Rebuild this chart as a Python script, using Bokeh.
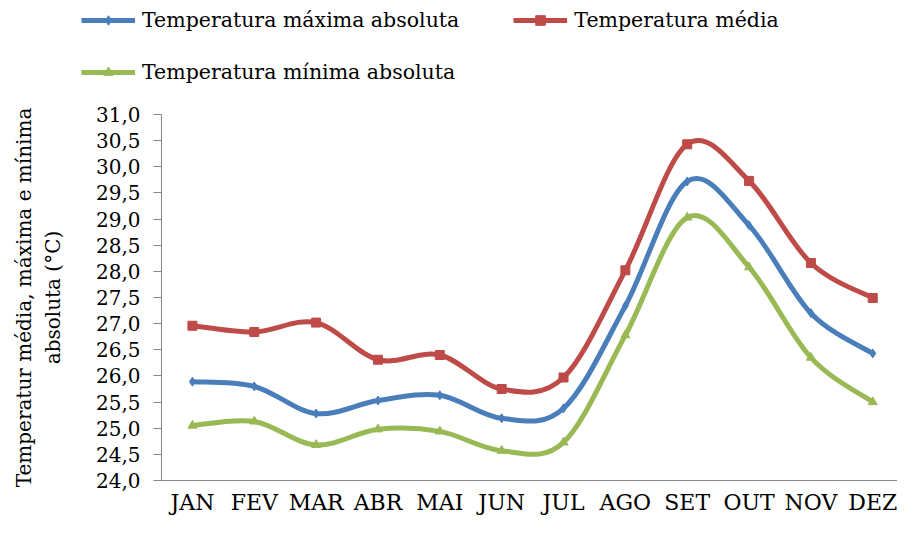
import numpy as np
from bokeh.plotting import figure
from bokeh.layouts import column
from bokeh.models import Legend, LegendItem, FixedTicker
from bokeh.embed import file_html
from bokeh.resources import INLINE

months = ["JAN", "FEV", "MAR", "ABR", "MAI", "JUN", "JUL", "AGO", "SET", "OUT", "NOV", "DEZ"]
t_max = [25.89, 25.80, 25.28, 25.53, 25.63, 25.19, 25.38, 27.34, 29.72, 28.88, 27.20, 26.43]
t_med = [26.96, 26.84, 27.02, 26.31, 26.40, 25.75, 25.97, 28.02, 30.43, 29.73, 28.16, 27.49]
t_min = [25.05, 25.13, 24.68, 24.98, 24.94, 24.57, 24.73, 26.78, 29.03, 28.08, 26.35, 25.50]
series_names = ["Temperatura máxima absoluta", "Temperatura média", "Temperatura mínima absoluta"]
y_ticks = [24.0, 24.5, 25.0, 25.5, 26.0, 26.5, 27.0, 27.5, 28.0, 28.5, 29.0, 29.5, 30.0, 30.5, 31.0]
y_tick_labels = ["24,0", "24,5", "25,0", "25,5", "26,0", "26,5", "27,0", "27,5",
                 "28,0", "28,5", "29,0", "29,5", "30,0", "30,5", "31,0"]

FONT = "DejaVu Serif"
W = 897
H_LEG = 92
H_MAIN = 517 - H_LEG
x = list(range(len(months)))


def bezier_segments(xs, ys):
    xs = np.asarray(xs, dtype=float)
    ys = np.asarray(ys, dtype=float)
    n = len(xs)
    seg = dict(x0=[], y0=[], x1=[], y1=[], cx0=[], cy0=[], cx1=[], cy1=[])
    for i in range(n - 1):
        a = max(i - 1, 0)
        d = min(i + 2, n - 1)
        seg["x0"].append(xs[i]); seg["y0"].append(ys[i])
        seg["x1"].append(xs[i + 1]); seg["y1"].append(ys[i + 1])
        seg["cx0"].append(xs[i] + (xs[i + 1] - xs[a]) / 6.0)
        seg["cy0"].append(ys[i] + (ys[i + 1] - ys[a]) / 6.0)
        seg["cx1"].append(xs[i + 1] - (xs[d] - xs[i]) / 6.0)
        seg["cy1"].append(ys[i + 1] - (ys[d] - ys[i]) / 6.0)
    return seg


styles = [
    (t_max, "#4A7EBB", "diamond", 9),
    (t_med, "#BE4B48", "square", 9),
    (t_min, "#98B954", "triangle", 9),
]

# ---------------- main chart ----------------
p = figure(width=W, height=H_MAIN, output_backend="svg", toolbar_location=None,
           x_range=(-0.5, 11.4), y_range=(24.0, 31.0),
           min_border_left=161, min_border_right=0, min_border_top=22, min_border_bottom=32)
p.outline_line_color = None
p.xgrid.visible = False
p.ygrid.visible = False

for vals, col, mk, sz in styles:
    seg = bezier_segments(x, vals)
    p.bezier(line_color=col, line_width=5, **seg)
    p.scatter(x, vals, marker=mk, size=sz, fill_color=col, line_color=col)

p.yaxis.ticker = FixedTicker(ticks=y_ticks)
p.yaxis.major_label_overrides = dict(zip(y_ticks, y_tick_labels))
p.yaxis.minor_tick_line_color = None
p.yaxis.major_tick_out = 8
p.yaxis.major_tick_in = 0
p.yaxis.axis_line_color = "#868686"
p.yaxis.major_tick_line_color = "#868686"
p.yaxis.major_label_text_font = FONT
p.yaxis.major_label_text_font_size = "20px"
p.yaxis.major_label_text_color = "black"
p.yaxis.major_label_standoff = 13
p.yaxis.axis_label = "Temperatur média, máxima e mínima\nabsoluta (°C)"
p.yaxis.axis_label_text_font = FONT
p.yaxis.axis_label_text_font_size = "20px"
p.yaxis.axis_label_text_font_style = "normal"
p.yaxis.axis_label_text_color = "black"
p.yaxis.axis_label_standoff = 28

p.xaxis.ticker = FixedTicker(ticks=x)
p.xaxis.major_label_overrides = {i: m for i, m in enumerate(months)}
p.xaxis.minor_tick_line_color = None
p.xaxis.major_tick_line_color = None
p.xaxis.axis_line_color = "#868686"
p.xaxis.major_label_text_font = FONT
p.xaxis.major_label_text_font_size = "22px"
p.xaxis.major_label_text_color = "black"
p.xaxis.major_label_standoff = 3

# ---------------- legend strip ----------------
q = figure(width=W, height=H_LEG, output_backend="svg", toolbar_location=None,
           x_range=(0, 1), y_range=(0, 1), x_axis_location=None, y_axis_location=None,
           min_border_left=0, min_border_right=0, min_border_top=0, min_border_bottom=0)
q.grid.visible = False
q.outline_line_color = None
for fig in (p, q):
    if "frame_align" in fig.properties():
        fig.frame_align = False

items = []
for (vals, col, mk, sz), name in zip(styles, series_names):
    r1 = q.line(x=[np.nan], y=[np.nan], line_color=col, line_width=5)
    r2 = q.scatter(x=[np.nan], y=[np.nan], marker=mk, size=sz, fill_color=col, line_color=col)
    items.append(LegendItem(label=name, renderers=[r1, r2]))


def make_legend(its, loc):
    return Legend(items=its, location=loc, orientation="horizontal",
                  label_text_font=FONT, label_text_font_size="20.5px", label_text_color="black",
                  glyph_width=54, glyph_height=24, label_height=24, label_standoff=7,
                  spacing=54, padding=0, margin=0, border_line_color=None,
                  background_fill_alpha=0)


# (x, y) = bottom-left corner of each legend, in pixels from the strip's bottom-left
q.add_layout(make_legend(items[:2], (81, H_LEG - 32)), "center")
q.add_layout(make_legend(items[2:], (81, H_LEG - 84)), "center")

layout = column(q, p, spacing=0)
open("out.html", "w").write(file_html(layout, INLINE))
